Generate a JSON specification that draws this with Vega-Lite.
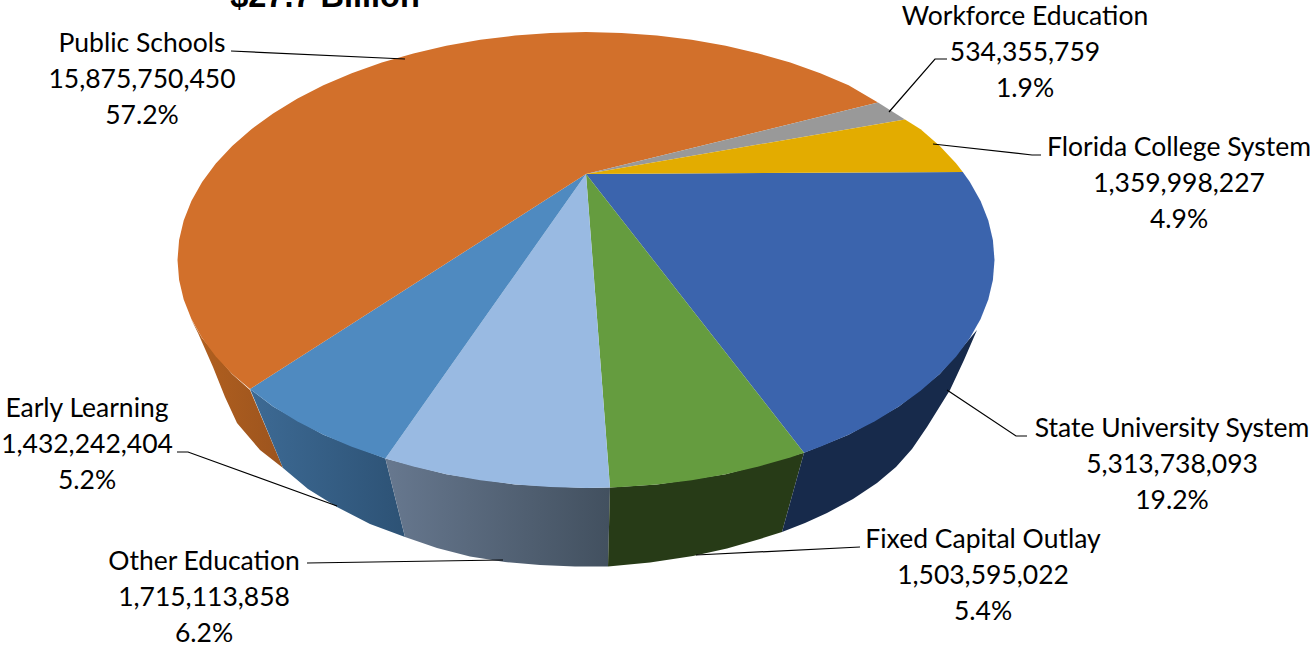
{
"$schema":"https://vega.github.io/schema/vega-lite/v6.json",
"width":1314,"height":645,"padding":0,"autosize":{"type":"none"},
"background":"#ffffff","view":{"stroke":null},
"datasets":{
"outlines":[
{"part":"wall Public Schools","seq":1,"x":191,"y":319},{"part":"wall Public Schools","seq":2,"x":202,"y":338},{"part":"wall Public Schools","seq":3,"x":232,"y":374},{"part":"wall Public Schools","seq":4,"x":250,"y":390},{"part":"wall Public Schools","seq":5,"x":283,"y":468},{"part":"wall Public Schools","seq":6,"x":260,"y":450},{"part":"wall Public Schools","seq":7,"x":237,"y":423},{"part":"wall Public Schools","seq":8,"x":225,"y":397},{"part":"wall Public Schools","seq":9,"x":213,"y":367},{"part":"wall Public Schools","seq":10,"x":198,"y":333},
{"part":"wall Early Learning","seq":1,"x":250,"y":389},{"part":"wall Early Learning","seq":2,"x":273,"y":406.6},{"part":"wall Early Learning","seq":3,"x":323.4,"y":434.7},{"part":"wall Early Learning","seq":4,"x":385.4,"y":458.6},{"part":"wall Early Learning","seq":5,"x":405,"y":537},{"part":"wall Early Learning","seq":6,"x":370,"y":524},{"part":"wall Early Learning","seq":7,"x":337,"y":507},{"part":"wall Early Learning","seq":8,"x":308,"y":489},{"part":"wall Early Learning","seq":9,"x":283,"y":468},
{"part":"wall Other Education","seq":1,"x":385.4,"y":458.6},{"part":"wall Other Education","seq":2,"x":446.3,"y":474.3},{"part":"wall Other Education","seq":3,"x":515.1,"y":484.5},{"part":"wall Other Education","seq":4,"x":586,"y":488},{"part":"wall Other Education","seq":5,"x":610,"y":487.6},{"part":"wall Other Education","seq":6,"x":608,"y":566.5},{"part":"wall Other Education","seq":7,"x":575,"y":566.5},{"part":"wall Other Education","seq":8,"x":540,"y":565},{"part":"wall Other Education","seq":9,"x":505,"y":562},{"part":"wall Other Education","seq":10,"x":470,"y":556.5},{"part":"wall Other Education","seq":11,"x":437,"y":548},{"part":"wall Other Education","seq":12,"x":405,"y":537},
{"part":"wall Fixed Capital Outlay","seq":1,"x":610,"y":487.6},{"part":"wall Fixed Capital Outlay","seq":2,"x":656.9,"y":484.5},{"part":"wall Fixed Capital Outlay","seq":3,"x":725.7,"y":474.3},{"part":"wall Fixed Capital Outlay","seq":4,"x":804,"y":452.7},{"part":"wall Fixed Capital Outlay","seq":5,"x":782,"y":532},{"part":"wall Fixed Capital Outlay","seq":6,"x":760,"y":539},{"part":"wall Fixed Capital Outlay","seq":7,"x":727,"y":548.5},{"part":"wall Fixed Capital Outlay","seq":8,"x":693,"y":556},{"part":"wall Fixed Capital Outlay","seq":9,"x":650,"y":562.5},{"part":"wall Fixed Capital Outlay","seq":10,"x":608,"y":566.5},
{"part":"wall State University System","seq":1,"x":977,"y":330},{"part":"wall State University System","seq":2,"x":939.8,"y":374},{"part":"wall State University System","seq":3,"x":898.9,"y":406.6},{"part":"wall State University System","seq":4,"x":848.6,"y":434.7},{"part":"wall State University System","seq":5,"x":804,"y":452.7},{"part":"wall State University System","seq":6,"x":782,"y":532},{"part":"wall State University System","seq":7,"x":805,"y":523},{"part":"wall State University System","seq":8,"x":827,"y":513},{"part":"wall State University System","seq":9,"x":853,"y":499},{"part":"wall State University System","seq":10,"x":877,"y":483},{"part":"wall State University System","seq":11,"x":896,"y":467},{"part":"wall State University System","seq":12,"x":912,"y":449},{"part":"wall State University System","seq":13,"x":927,"y":427},{"part":"wall State University System","seq":14,"x":950,"y":390},{"part":"wall State University System","seq":15,"x":964,"y":360},
{"part":"top State University System","seq":1,"x":586,"y":174},{"part":"top State University System","seq":2,"x":962.8,"y":172},{"part":"top State University System","seq":3,"x":969.9,"y":182},{"part":"top State University System","seq":4,"x":980.6,"y":201},{"part":"top State University System","seq":5,"x":988.3,"y":220.4},{"part":"top State University System","seq":6,"x":992.9,"y":240.1},{"part":"top State University System","seq":7,"x":994.5,"y":260},{"part":"top State University System","seq":8,"x":992.9,"y":279.9},{"part":"top State University System","seq":9,"x":988.3,"y":299.6},{"part":"top State University System","seq":10,"x":980.6,"y":319},{"part":"top State University System","seq":11,"x":969.9,"y":338},{"part":"top State University System","seq":12,"x":956.2,"y":356.4},{"part":"top State University System","seq":13,"x":939.8,"y":374},{"part":"top State University System","seq":14,"x":920.6,"y":390.8},{"part":"top State University System","seq":15,"x":898.9,"y":406.6},{"part":"top State University System","seq":16,"x":874.9,"y":421.2},{"part":"top State University System","seq":17,"x":848.6,"y":434.7},{"part":"top State University System","seq":18,"x":820.3,"y":446.8},{"part":"top State University System","seq":19,"x":804,"y":452.7},
{"part":"top Fixed Capital Outlay","seq":1,"x":586,"y":174},{"part":"top Fixed Capital Outlay","seq":2,"x":804,"y":452.7},{"part":"top Fixed Capital Outlay","seq":3,"x":790.3,"y":457.4},{"part":"top Fixed Capital Outlay","seq":4,"x":758.6,"y":466.6},{"part":"top Fixed Capital Outlay","seq":5,"x":725.7,"y":474.3},{"part":"top Fixed Capital Outlay","seq":6,"x":691.7,"y":480.2},{"part":"top Fixed Capital Outlay","seq":7,"x":656.9,"y":484.5},{"part":"top Fixed Capital Outlay","seq":8,"x":621.6,"y":487.1},{"part":"top Fixed Capital Outlay","seq":9,"x":610,"y":487.6},
{"part":"top Other Education","seq":1,"x":586,"y":174},{"part":"top Other Education","seq":2,"x":610,"y":487.6},{"part":"top Other Education","seq":3,"x":586,"y":488},{"part":"top Other Education","seq":4,"x":550.4,"y":487.1},{"part":"top Other Education","seq":5,"x":515.1,"y":484.5},{"part":"top Other Education","seq":6,"x":480.3,"y":480.2},{"part":"top Other Education","seq":7,"x":446.3,"y":474.3},{"part":"top Other Education","seq":8,"x":413.4,"y":466.6},{"part":"top Other Education","seq":9,"x":385.4,"y":458.6},
{"part":"top Early Learning","seq":1,"x":586,"y":174},{"part":"top Early Learning","seq":2,"x":385.4,"y":458.6},{"part":"top Early Learning","seq":3,"x":351.7,"y":446.8},{"part":"top Early Learning","seq":4,"x":323.4,"y":434.7},{"part":"top Early Learning","seq":5,"x":297.1,"y":421.2},{"part":"top Early Learning","seq":6,"x":273.1,"y":406.6},{"part":"top Early Learning","seq":7,"x":250,"y":389},
{"part":"top Public Schools","seq":1,"x":586,"y":174},{"part":"top Public Schools","seq":2,"x":250,"y":389},{"part":"top Public Schools","seq":3,"x":232.2,"y":374},{"part":"top Public Schools","seq":4,"x":215.8,"y":356.4},{"part":"top Public Schools","seq":5,"x":202.1,"y":338},{"part":"top Public Schools","seq":6,"x":191.4,"y":319},{"part":"top Public Schools","seq":7,"x":183.7,"y":299.6},{"part":"top Public Schools","seq":8,"x":179.1,"y":279.9},{"part":"top Public Schools","seq":9,"x":177.5,"y":260},{"part":"top Public Schools","seq":10,"x":179.1,"y":240.1},{"part":"top Public Schools","seq":11,"x":183.7,"y":220.4},{"part":"top Public Schools","seq":12,"x":191.4,"y":201},{"part":"top Public Schools","seq":13,"x":202.1,"y":182},{"part":"top Public Schools","seq":14,"x":215.8,"y":163.6},{"part":"top Public Schools","seq":15,"x":232.2,"y":146},{"part":"top Public Schools","seq":16,"x":251.4,"y":129.2},{"part":"top Public Schools","seq":17,"x":273.1,"y":113.4},{"part":"top Public Schools","seq":18,"x":297.1,"y":98.8},{"part":"top Public Schools","seq":19,"x":323.4,"y":85.3},{"part":"top Public Schools","seq":20,"x":351.7,"y":73.2},{"part":"top Public Schools","seq":21,"x":381.8,"y":62.6},{"part":"top Public Schools","seq":22,"x":413.4,"y":53.4},{"part":"top Public Schools","seq":23,"x":446.3,"y":45.7},{"part":"top Public Schools","seq":24,"x":480.3,"y":39.8},{"part":"top Public Schools","seq":25,"x":515.1,"y":35.5},{"part":"top Public Schools","seq":26,"x":550.4,"y":32.9},{"part":"top Public Schools","seq":27,"x":586,"y":32},{"part":"top Public Schools","seq":28,"x":621.6,"y":32.9},{"part":"top Public Schools","seq":29,"x":656.9,"y":35.5},{"part":"top Public Schools","seq":30,"x":691.7,"y":39.8},{"part":"top Public Schools","seq":31,"x":725.7,"y":45.7},{"part":"top Public Schools","seq":32,"x":758.6,"y":53.4},{"part":"top Public Schools","seq":33,"x":790.3,"y":62.6},{"part":"top Public Schools","seq":34,"x":820.3,"y":73.2},{"part":"top Public Schools","seq":35,"x":848.6,"y":85.3},{"part":"top Public Schools","seq":36,"x":878,"y":102.5},
{"part":"top Workforce Education","seq":1,"x":586,"y":174},{"part":"top Workforce Education","seq":2,"x":878,"y":102.5},{"part":"top Workforce Education","seq":3,"x":905,"y":119.5},
{"part":"top Florida College System","seq":1,"x":586,"y":174},{"part":"top Florida College System","seq":2,"x":905,"y":119.5},{"part":"top Florida College System","seq":3,"x":920.6,"y":129.2},{"part":"top Florida College System","seq":4,"x":939.8,"y":146},{"part":"top Florida College System","seq":5,"x":956.2,"y":163.6},{"part":"top Florida College System","seq":6,"x":962.8,"y":172}
],
"leaders":[
{"name":"Public Schools","seq":1,"x":231,"y":51},{"name":"Public Schools","seq":2,"x":405,"y":59},
{"name":"Workforce Education","seq":1,"x":947,"y":59},{"name":"Workforce Education","seq":2,"x":935,"y":59},{"name":"Workforce Education","seq":3,"x":889,"y":112},
{"name":"Florida College System","seq":1,"x":933,"y":144},{"name":"Florida College System","seq":2,"x":1032,"y":155},{"name":"Florida College System","seq":3,"x":1041,"y":155},
{"name":"State University System","seq":1,"x":947,"y":390},{"name":"State University System","seq":2,"x":1016,"y":436},{"name":"State University System","seq":3,"x":1027,"y":436},
{"name":"Fixed Capital Outlay","seq":1,"x":696,"y":555},{"name":"Fixed Capital Outlay","seq":2,"x":860,"y":547},
{"name":"Other Education","seq":1,"x":307,"y":563},{"name":"Other Education","seq":2,"x":503,"y":560},
{"name":"Early Learning","seq":1,"x":177,"y":452},{"name":"Early Learning","seq":2,"x":188,"y":452},{"name":"Early Learning","seq":3,"x":337,"y":506}
],
"labels":[
{"name":"Public Schools","amount":15875750450,"share":0.572,"x":142,"y":43.5},
{"name":"Workforce Education","amount":534355759,"share":0.019,"x":1025,"y":16.5},
{"name":"Florida College System","amount":1359998227,"share":0.049,"x":1179,"y":147.5},
{"name":"State University System","amount":5313738093,"share":0.192,"x":1172,"y":428.5},
{"name":"Fixed Capital Outlay","amount":1503595022,"share":0.054,"x":983,"y":539.5},
{"name":"Other Education","amount":1715113858,"share":0.062,"x":204,"y":561.5},
{"name":"Early Learning","amount":1432242404,"share":0.052,"x":87,"y":408.5}
],
"heading":[{"title":"$27.7 Billion","x":325,"y":7}]
},
"encoding":{
"x":{"field":"x","type":"quantitative","scale":{"domain":[0,1314],"nice":false,"zero":false},"axis":null},
"y":{"field":"y","type":"quantitative","scale":{"domain":[645,0],"nice":false,"zero":false},"axis":null}
},
"layer":[
{"data":{"name":"outlines"},"transform":[{"filter":"datum.part=='wall Public Schools'"}],
"mark":{"type":"line","interpolate":"linear-closed","strokeWidth":0,"fill":{"gradient":"linear","x1":0,"y1":0,"x2":1,"y2":0,"stops":[{"offset":0,"color":"#B2601F"},{"offset":1,"color":"#9C541E"}]}},
"encoding":{"order":{"field":"seq","type":"quantitative"}}},
{"data":{"name":"outlines"},"transform":[{"filter":"datum.part=='wall Early Learning'"}],
"mark":{"type":"line","interpolate":"linear-closed","strokeWidth":0,"fill":{"gradient":"linear","x1":0,"y1":0,"x2":1,"y2":0,"stops":[{"offset":0,"color":"#3D6A94"},{"offset":1,"color":"#2D5275"}]}},
"encoding":{"order":{"field":"seq","type":"quantitative"}}},
{"data":{"name":"outlines"},"transform":[{"filter":"datum.part=='wall Other Education'"}],
"mark":{"type":"line","interpolate":"linear-closed","strokeWidth":0,"fill":{"gradient":"linear","x1":0,"y1":0,"x2":1,"y2":0,"stops":[{"offset":0,"color":"#67788F"},{"offset":1,"color":"#42505F"}]}},
"encoding":{"order":{"field":"seq","type":"quantitative"}}},
{"data":{"name":"outlines"},"transform":[{"filter":"datum.part!='wall Public Schools'&&datum.part!='wall Early Learning'&&datum.part!='wall Other Education'"}],
"mark":{"type":"line","interpolate":"linear-closed","strokeWidth":0},
"encoding":{"order":{"field":"seq","type":"quantitative"},
"fill":{"field":"part","type":"nominal","legend":null,"scale":{
"domain":["wall Fixed Capital Outlay","wall State University System","top State University System","top Fixed Capital Outlay","top Other Education","top Early Learning","top Public Schools","top Workforce Education","top Florida College System"],
"range":["#273B17","#172A4B","#3B64AD","#659C3F","#99BAE2","#4F8AC0","#D2702B","#999999","#E3AC00"]}}}},
{"data":{"name":"leaders"},"mark":{"type":"line","stroke":"#000000","strokeWidth":1.2},
"encoding":{"detail":{"field":"name","type":"nominal"},"order":{"field":"seq","type":"quantitative"}}},
{"data":{"name":"labels"},"mark":{"type":"text","font":"Lato","fontSize":26.5,"baseline":"middle","align":"center","color":"#000000"},
"encoding":{"text":{"field":"name","type":"nominal"}}},
{"data":{"name":"labels"},"mark":{"type":"text","font":"Lato","fontSize":26.5,"baseline":"middle","align":"center","color":"#000000","dy":36},
"encoding":{"text":{"field":"amount","type":"quantitative","format":","}}},
{"data":{"name":"labels"},"mark":{"type":"text","font":"Lato","fontSize":26.5,"baseline":"middle","align":"center","color":"#000000","dy":72},
"encoding":{"text":{"field":"share","type":"quantitative","format":".1%"}}},
{"data":{"name":"heading"},"mark":{"type":"text","font":"Liberation Sans","fontWeight":"bold","fontSize":32.5,"baseline":"alphabetic","align":"center","color":"#000000","clip":true},
"encoding":{"text":{"field":"title","type":"nominal"}}}
]
}
